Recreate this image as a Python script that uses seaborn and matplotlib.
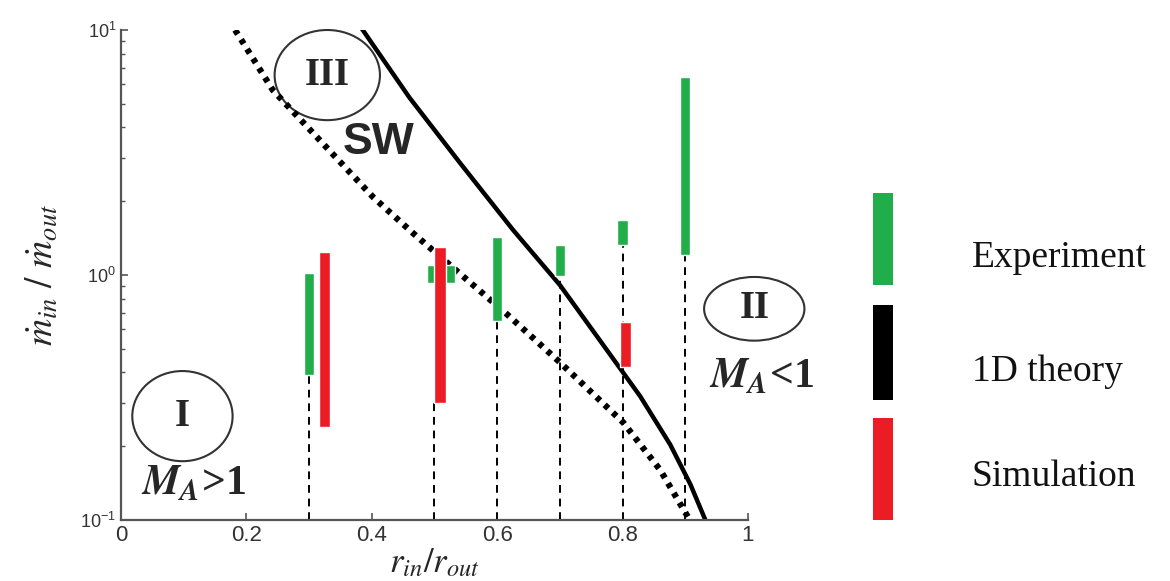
# Mass flow ratio vs radius ratio (experiment / 1D theory / simulation)

import numpy as np
import pandas as pd
import matplotlib
matplotlib.use("Agg")
import matplotlib.pyplot as plt
from matplotlib.patches import Ellipse, Rectangle
import seaborn as sns

# Data
exp_x = [0.30, 0.51, 0.60, 0.70, 0.80, 0.90]
exp_low = [0.39, 0.93, 0.65, 0.99, 1.32, 1.21]
exp_high = [1.02, 1.10, 1.43, 1.32, 1.68, 6.43]
exp_width = [0.016, 0.045, 0.016, 0.016, 0.018, 0.016]

sim_x = [0.325, 0.509, 0.805]
sim_low = [0.24, 0.30, 0.42]
sim_high = [1.24, 1.30, 0.64]

# dashed guide lines: x and the value where the dash starts
guide_x = [0.30, 0.50, 0.60, 0.70, 0.80, 0.90]
guide_top = [0.39, 0.30, 0.65, 0.99, 1.32, 1.21]

theory_x = [0.381, 0.46, 0.541, 0.625, 0.700, 0.764, 0.828, 0.876, 0.908, 0.932]
theory_y = [10.4, 5.3, 2.86, 1.53, 0.91, 0.54, 0.32, 0.203, 0.140, 0.1]

dotted_x = [0.182, 0.242, 0.402, 0.466, 0.616, 0.700, 0.801, 0.86, 0.907]
dotted_y = [10.0, 5.69, 2.08, 1.48, 0.69, 0.44, 0.25, 0.16, 0.1]

x_ticks = [0, 0.2, 0.4, 0.6, 0.8, 1]
x_tick_labels = ["0", "0.2", "0.4", "0.6", "0.8", "1"]
legend_labels = ["Experiment", "1D theory", "Simulation"]

green = "#22ad4b"
red = "#ec1c24"

sns.set_style("ticks")
plt.rcParams["font.family"] = ["Liberation Sans", "DejaVu Sans"]
plt.rcParams["mathtext.fontset"] = "stix"

W, H = 1170, 581
fig = plt.figure(figsize=(W / 100, H / 100), dpi=100)
ax = fig.add_axes([121 / W, 1 - 520 / H, 627 / W, 490 / H])

# dashed vertical guides
ax.vlines(guide_x, 0.1, guide_top, colors="black", linestyles=(0, (4, 3)),
          linewidth=1.4, zorder=1)

# theory curves
theory = pd.DataFrame({"x": theory_x, "y": theory_y})
dotted = pd.DataFrame({"x": dotted_x, "y": dotted_y})
sns.lineplot(data=theory, x="x", y="y", ax=ax, color="black", linewidth=3.2,
             zorder=2)
sns.lineplot(data=dotted, x="x", y="y", ax=ax, color="black", linewidth=4.5,
             linestyle=(0, (0.8, 1.0)), zorder=2)

# experiment and simulation ranges
exp_h = np.array(exp_high) - np.array(exp_low)
sim_h = np.array(sim_high) - np.array(sim_low)
ax.bar(exp_x, exp_h, bottom=exp_low, width=exp_width, color=green, zorder=3)
ax.bar(sim_x, sim_h, bottom=sim_low, width=0.018, color=red, zorder=4)

ax.set_yscale("log")
ax.set_ylim(0.1, 10)
ax.set_xlim(0, 1)
ax.set_xticks(x_ticks)
ax.set_xticklabels(x_tick_labels)
ax.tick_params(axis="both", which="major", direction="in", length=5,
               width=1.2, color="#555555", labelsize=16, labelcolor="#333333")
ax.tick_params(axis="y", which="minor", direction="in", length=3,
               width=1.0, color="#555555")
ax.tick_params(axis="y", labelsize=13)
sns.despine(ax=ax)
for s in ["left", "bottom"]:
    ax.spines[s].set_color("#555555")
    ax.spines[s].set_linewidth(1.6)

ax.set_xlabel(r"$r_{in}/r_{out}$", fontsize=25, labelpad=0)
ax.set_ylabel(r"$\dot{m}_{in}\ /\ \dot{m}_{out}$", fontsize=27, labelpad=14)

# region labels
for cx, cy, w, h, lab in [(0.329, 0.908, 0.168, 0.184, "III"),
                          (0.098, 0.212, 0.160, 0.184, "I"),
                          (1.010, 0.431, 0.160, 0.130, "II")]:
    ax.add_patch(Ellipse((cx, cy), w, h, transform=ax.transAxes, fill=False,
                         edgecolor="#333333", linewidth=1.5, clip_on=False))
    ax.text(cx, cy, lab, transform=ax.transAxes, ha="center", va="center",
            fontsize=28, fontweight="bold", family="Liberation Serif")

ax.text(0.41, 0.77, "SW", transform=ax.transAxes, ha="center", va="center",
        fontsize=32, fontweight="bold")
ax.text(0.115, 0.075, r"$\mathbfit{M_A}$>1", transform=ax.transAxes,
        ha="center", va="center", fontsize=30, fontweight="bold",
        family="Liberation Serif")
ax.text(1.022, 0.292, r"$\mathbfit{M_A}$<1", transform=ax.transAxes,
        ha="center", va="center", fontsize=30, fontweight="bold",
        family="Liberation Serif")

# legend: tall colour bars with serif labels
bar_tops = [193, 305, 418]
bar_bottoms = [285, 400, 520]
text_y = [258, 372, 477]
for c, lab, t, b, ty in zip([green, "black", red], legend_labels,
                            bar_tops, bar_bottoms, text_y):
    fig.add_artist(Rectangle((873 / W, 1 - b / H), 20 / W, (b - t) / H,
                             transform=fig.transFigure, facecolor=c,
                             edgecolor="none"))
    fig.text(972 / W, 1 - ty / H, lab, ha="left", va="center",
             family="Liberation Serif", fontsize=27, color="#111111")

plt.savefig("out.png", dpi=100)
